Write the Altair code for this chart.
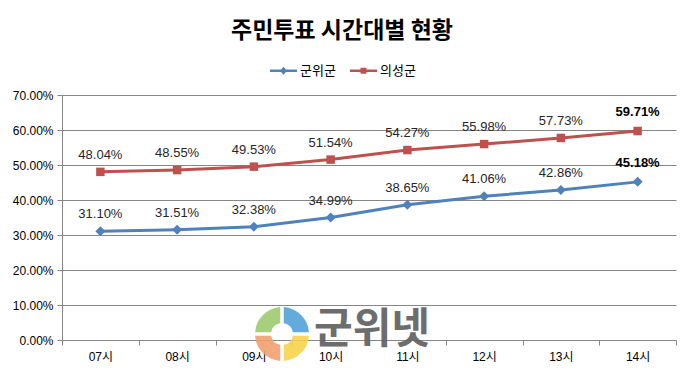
import altair as alt
import pandas as pd

hours = ["07시", "08시", "09시", "10시", "11시", "12시", "13시", "14시"]
gunwi = [31.10, 31.51, 32.38, 34.99, 38.65, 41.06, 42.86, 45.18]
uiseong = [48.04, 48.55, 49.53, 51.54, 54.27, 55.98, 57.73, 59.71]
series = ["군위군", "의성군"]
colors = ["#4F81BD", "#C0504D"]
title_text = "주민투표 시간대별 현황"
watermark = "군위넷"
logo_parts = [1, 1, 1, 1]
logo_keys = ["a", "b", "c", "d"]
logo_colors = ["#52A2D9", "#F7D34D", "#F2A070", "#9CCB6E"]

rows = []
for s, vals in zip(series, [gunwi, uiseong]):
    for i, (h, v) in enumerate(zip(hours, vals)):
        rows.append({"시간": h, "지역": s, "rate": v, "last": i == len(hours) - 1})
df = pd.DataFrame(rows)

FONT = "Liberation Sans, Noto Sans CJK KR"
x = alt.X("시간:O", sort=hours, title=None,
          scale=alt.Scale(paddingInner=0, paddingOuter=0),
          axis=alt.Axis(labelAngle=0, tickBand="extent", domainColor="#868686",
                        tickColor="#868686", tickSize=5, labelPadding=6,
                        labelFont=FONT, labelFontSize=12, labelColor="#000000",
                        grid=False))
y = alt.Y("rate:Q", title=None,
          scale=alt.Scale(domain=[0, 70], nice=False),
          axis=alt.Axis(values=[0, 10, 20, 30, 40, 50, 60, 70],
                        labelExpr="format(datum.value, '.2f') + '%'",
                        grid=True, gridColor="#868686", domainColor="#868686",
                        tickColor="#868686", tickSize=5, labelPadding=4,
                        labelFont=FONT, labelFontSize=12, labelColor="#000000"))
color_scale = alt.Scale(domain=series, range=colors)

base = alt.Chart(df)
blue = base.transform_filter(alt.datum["지역"] == series[0])
red = base.transform_filter(alt.datum["지역"] == series[1])

line_blue = blue.mark_line(strokeWidth=3, color=colors[0]).encode(x=x, y=y)
line_red = red.mark_line(strokeWidth=3, color=colors[1]).encode(x=x, y=y)
pts_blue = blue.mark_point(shape="diamond", filled=True, size=100, opacity=1,
                           color=colors[0]).encode(x=x, y=y)
pts_red = red.mark_point(shape="square", filled=True, size=72, opacity=1,
                         color=colors[1]).encode(x=x, y=y)

labels = base.transform_filter("!datum.last").transform_calculate(
    label="format(datum.rate, '.2f') + '%'").mark_text(
    dy=-17, font=FONT, fontSize=13, color="#262626").encode(x=x, y=y, text="label:N")
labels_bold = base.transform_filter("datum.last").transform_calculate(
    label="format(datum.rate, '.2f') + '%'").mark_text(
    dy=-19, font=FONT, fontSize=13, fontWeight="bold", color="#000000").encode(
    x=x, y=y, text="label:N")

legend_paths = [
    "M-1,-0.09 L1,-0.09 L1,0.09 L-1,0.09 Z M0,-0.3 L0.26,0 L0,0.3 L-0.26,0 Z",
    "M-1,-0.09 L1,-0.09 L1,0.09 L-1,0.09 Z M-0.22,-0.22 L0.22,-0.22 L0.22,0.22 L-0.22,0.22 Z",
]
legend_layer = base.transform_filter("datum.last").mark_point(filled=True, opacity=0).encode(
    x=x, y=y,
    color=alt.Color("지역:N", scale=color_scale, title=None),
    shape=alt.Shape("지역:N", scale=alt.Scale(domain=series, range=legend_paths), title=None),
)

wm = alt.Chart(pd.DataFrame({"t": [watermark]})).mark_text(
    font="Noto Sans CJK KR", fontSize=42, fontWeight="bold", color="#666666",
    opacity=0.95).encode(x=alt.value(310), y=alt.value(235), text="t:N")

logo = alt.Chart(pd.DataFrame({"p": logo_parts, "k": logo_keys})).mark_arc(
    outerRadius=27, innerRadius=11, padAngle=0.12, opacity=0.9).encode(
    theta=alt.Theta("p:Q", stack=True),
    fill=alt.Fill("k:N", scale=alt.Scale(domain=logo_keys, range=logo_colors), legend=None),
    x=alt.value(220), y=alt.value(239))

chart = alt.layer(line_blue, line_red, pts_blue, pts_red, labels, labels_bold,
                  legend_layer, logo, wm).properties(
    width=614, height=245,
    autosize=alt.AutoSizeParams(type="none"),
    padding={"left": 62, "top": 95, "right": 5, "bottom": 37},
    title=alt.TitleParams(title_text, font="Noto Sans CJK KR", fontSize=23, fontWeight="bold",
                          anchor="middle", dx=-27, offset=14, color="#000000"),
).configure_view(stroke=None).configure_legend(
    orient="none", legendX=208, legendY=-38, direction="horizontal",
    symbolSize=729, symbolStrokeWidth=0, symbolOpacity=1,
    labelFont="Noto Sans CJK KR", labelFontSize=13,
    labelColor="#000000", labelOffset=3, columnPadding=14, padding=0
)

chart.save("out.html", embed_options={"renderer": "svg", "actions": False})
